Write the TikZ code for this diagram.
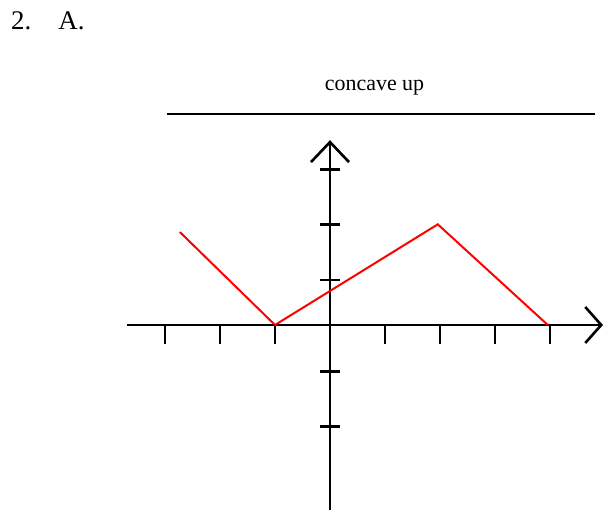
\documentclass[tikz,border=0pt]{standalone}
\usepackage{fontspec}
\setmainfont{Liberation Serif}
\usepackage{xcolor}
\usetikzlibrary{arrows.meta}

\begin{document}
\begin{tikzpicture}[x=55bp, y=55bp, line width=2.6bp]

    % Page frame
    \useasboundingbox (-6,-3.4) rectangle (4.982,5.909);

    % Heading and label
    \node[anchor=base west, inner sep=0pt, font=\fontsize{27}{30}\selectfont]
        (num) at (-5.82,5.38) {2.\hspace{27bp}A.};
    \node[anchor=base, inner sep=0pt, font=\fontsize{22}{26}\selectfont]
        (caption) at (0.81,4.255) {concave up};
    \coordinate (barL) at (-2.964,3.836);
    \coordinate (barR) at (4.818,3.836);
    \draw[line width=2bp] (barL) -- (barR);

    % Axes
    \coordinate (xL) at (-3.69,0);
    \coordinate (xR) at (4.964,0);
    \coordinate (yB) at (0,-3.364);
    \coordinate (yT) at (0,3.36);
    \draw[-{Straight Barb[length=16bp, width=36bp]}] (xL) -- (xR);
    \draw[-{Straight Barb[length=20bp, width=38bp]}] (yB) -- (yT);

    % Tick marks
    \foreach \x in {-3,-2,-1,1,2,3,4}
        \draw (\x,0) -- (\x,-0.345);
    \foreach \y in {-1.85,-0.85,0.82,1.83,2.83}
        \draw (-0.18,\y) -- (0.18,\y);

    % The graph
    \coordinate (p1) at (-2.73,1.69);
    \coordinate (p2) at (-1,0);
    \coordinate (p3) at (1.96,1.83);
    \coordinate (p4) at (3.96,0);
    \draw[red, line width=2bp] (p1) -- (p2) -- (p3) -- (p4);

\end{tikzpicture}
\end{document}
